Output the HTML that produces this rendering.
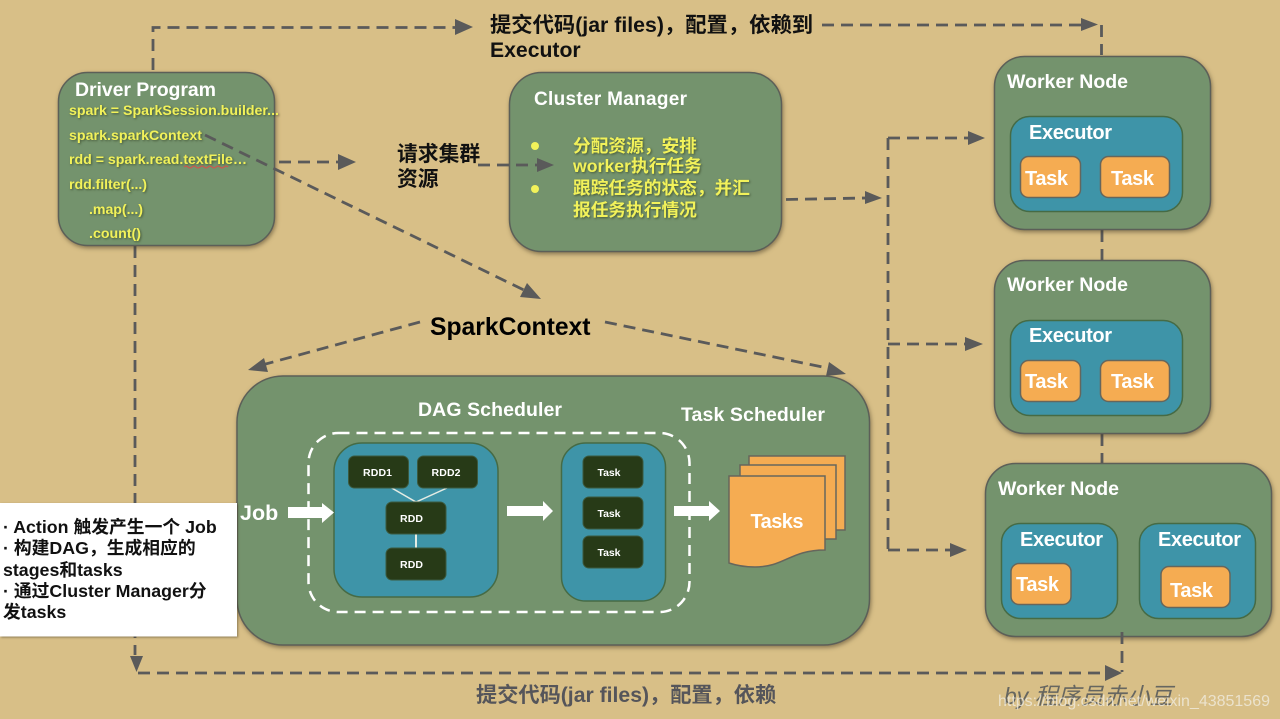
<!DOCTYPE html>
<html><head><meta charset="utf-8"><style>
html,body{margin:0;padding:0;background:#d8bf87;width:1280px;height:719px;overflow:hidden}
svg{display:block}
text{font-family:"Liberation Sans","Noto Sans CJK SC",sans-serif;font-weight:bold}
.w{fill:#fff}
.y{fill:#f2f25a;font-size:14.2px;filter:drop-shadow(1px 1px 1px rgba(40,50,20,.6))}
.k{fill:#111}
.g{fill:#74936d;stroke:#5c5f58;stroke-width:1.5;filter:drop-shadow(1px 2px 2px rgba(60,50,30,.5))}
.t{fill:#3e94a8;stroke:#466b45;stroke-width:1.5}
.o{fill:#f5ac52;stroke:#66665c;stroke-width:1.5}
.d{fill:#273a17;stroke:#3b5a40;stroke-width:1}
.l{fill:none;stroke:#5a5a5a;stroke-width:2.800;stroke-dasharray:12 7}
.a{fill:#5a5a5a}
</style></head><body>
<svg width="1280" height="719" viewBox="0 0 1280 719" xmlns="http://www.w3.org/2000/svg">
<rect width="1280" height="719" fill="#d8bf87"/>

<!-- connectors behind boxes -->
<path class="l" d="M153 70V27.500H470"/>
<path class="a" d="M455 19L473 27L455 35Z"/>
<path class="l" d="M822 25H1082"/>
<path class="a" d="M1081 18L1098 24.500L1081 31Z"/>
<path class="l" d="M1101.500 25V55"/>
<path class="l" d="M1102 230V260"/>
<path class="l" d="M1102 434V463"/>
<path class="l" d="M135 246V655"/>
<path class="a" d="M130 656H143L136.500 672Z"/>
<path class="l" d="M138 673H1106"/>
<path class="a" d="M1105 665L1122 673L1105 681Z"/>

<!-- Driver -->
<rect class="g" x="58.500" y="72.500" width="216" height="173" rx="29"/>
<text class="w" x="75" y="96" font-size="19.500" textLength="141">Driver Program</text>
<text class="y" x="69" y="115" textLength="210">spark = SparkSession.builder...</text>
<text class="y" x="69" y="140" textLength="133">spark.sparkContext</text>
<text class="y" x="69" y="164" textLength="178">rdd = spark.read.textFile…</text>
<path d="M184 167q2 -2 4 0t4 0t4 0t4 0t4 0t4 0t4 0t4 0t4 0t4 0t4 0" fill="none" stroke="#d8504a" stroke-width="1"/>
<text class="y" x="69" y="189" textLength="78">rdd.filter(...)</text>
<text class="y" x="89" y="214" textLength="54">.map(...)</text>
<text class="y" x="89" y="238" textLength="52">.count()</text>

<!-- Cluster manager -->
<rect class="g" x="509.500" y="72.500" width="272" height="179" rx="32"/>
<text class="w" x="534" y="105" font-size="19" textLength="153">Cluster Manager</text>
<circle cx="535" cy="146" r="4" fill="#f2f25a"/>
<circle cx="535" cy="189" r="4" fill="#f2f25a"/>
<text class="y" style="font-size:17.700px" x="573" y="152">分配资源，安排</text>
<text class="y" style="font-size:17.700px" x="573" y="172">worker执行任务</text>
<text class="y" style="font-size:17.700px" x="573" y="194">跟踪任务的状态，并汇</text>
<text class="y" style="font-size:17.700px" x="573" y="216">报任务执行情况</text>

<!-- dashed arrows on top of boxes -->
<path class="l" d="M205 135L528 292"/>
<path class="a" d="M527 283L541 299L520 297Z"/>
<path class="l" d="M279 162H340"/>
<path class="a" d="M338 154L356 162L338 170Z"/>
<path class="l" d="M478 165H538"/>
<path class="a" d="M537 158L554 165L537 172Z"/>
<path class="l" d="M786 199.500L866 198"/>
<path class="a" d="M865 191L882 198L865 204Z"/>
<path class="l" d="M888 138V550"/>
<path class="l" d="M888 138H970"/>
<path class="a" d="M968 131L985 138L968 145Z"/>
<path class="l" d="M888 344H968"/>
<path class="a" d="M965 337L983 344L965 351Z"/>
<path class="l" d="M888 550H952"/>
<path class="a" d="M950 543L967 550L950 557Z"/>

<!-- labels -->
<text class="k" x="490" y="32" font-size="21.300">提交代码(jar files)，配置，依赖到</text>
<text class="k" x="490" y="57" font-size="21.200">Executor</text>
<text class="k" x="397" y="161" font-size="20.800">请求集群</text>
<text class="k" x="397" y="186" font-size="20.800">资源</text>
<text class="k" x="430" y="335" font-size="24.700" style="fill:#000">SparkContext</text>

<path class="l" d="M420 322L262 365"/>
<path class="a" d="M264 358L248 370L268 372Z"/>
<path class="l" d="M605 322L832 369"/>
<path class="a" d="M829 362L846 374L826 376Z"/>

<!-- Worker 1 -->
<rect class="g" x="994.500" y="56.500" width="216" height="173" rx="30"/>
<text class="w" x="1007" y="88" font-size="19.500" textLength="121">Worker Node</text>
<rect class="t" x="1010.500" y="116.500" width="172" height="95" rx="19"/>
<text class="w" x="1029" y="139" font-size="20" textLength="83">Executor</text>
<rect class="o" x="1020.500" y="156.500" width="60" height="41" rx="8"/>
<text class="w" x="1025" y="185" font-size="20" textLength="43">Task</text>
<rect class="o" x="1100.500" y="156.500" width="69" height="41" rx="8"/>
<text class="w" x="1111" y="185" font-size="20" textLength="43">Task</text>

<!-- Worker 2 -->
<rect class="g" x="994.500" y="260.500" width="216" height="173" rx="30"/>
<text class="w" x="1007" y="291" font-size="19.500" textLength="121">Worker Node</text>
<rect class="t" x="1010.500" y="320.500" width="172" height="95" rx="19"/>
<text class="w" x="1029" y="342" font-size="20" textLength="83">Executor</text>
<rect class="o" x="1020.500" y="360.500" width="60" height="41" rx="8"/>
<text class="w" x="1025" y="388" font-size="20" textLength="43">Task</text>
<rect class="o" x="1100.500" y="360.500" width="69" height="41" rx="8"/>
<text class="w" x="1111" y="388" font-size="20" textLength="43">Task</text>

<!-- Worker 3 -->
<rect class="g" x="985.500" y="463.500" width="286" height="173" rx="30"/>
<text class="w" x="998" y="495" font-size="19.500" textLength="121">Worker Node</text>
<rect class="t" x="1001.500" y="523.500" width="116" height="95" rx="19"/>
<text class="w" x="1020" y="546" font-size="20" textLength="83">Executor</text>
<rect class="o" x="1011" y="563.500" width="60" height="41" rx="8"/>
<text class="w" x="1016" y="591" font-size="20" textLength="43">Task</text>
<rect class="t" x="1139.500" y="523.500" width="116" height="95" rx="19"/>
<text class="w" x="1158" y="546" font-size="20" textLength="83">Executor</text>
<rect class="o" x="1161" y="566.500" width="69" height="41" rx="8"/>
<text class="w" x="1170" y="597" font-size="20" textLength="43">Task</text>
<path class="l" d="M1122 632V672"/>

<!-- DAG -->
<rect class="g" x="237" y="376" width="632.500" height="269" rx="46"/>
<text class="w" x="418" y="416" font-size="19.500" textLength="144">DAG Scheduler</text>
<text class="w" x="681" y="421" font-size="19.500" textLength="144">Task Scheduler</text>
<text class="w" x="240" y="520" font-size="21.500">Job</text>

<rect class="t" x="334" y="443" width="164" height="154" rx="28"/>
<rect class="t" x="561.500" y="443" width="104" height="158" rx="24"/>

<path d="M390 487L416 502L447 488" fill="none" stroke="#e4ece4" stroke-width="1.500"/>
<path d="M416 534V548" fill="none" stroke="#e4ece4" stroke-width="2"/>

<g font-size="10.500">
<rect class="d" x="348.500" y="456" width="60" height="32" rx="6"/>
<text class="w" x="363" y="476" textLength="29">RDD1</text>
<rect class="d" x="417.500" y="456" width="60" height="32" rx="6"/>
<text class="w" x="431.500" y="476" textLength="29">RDD2</text>
<rect class="d" x="386" y="502" width="60" height="32" rx="6"/>
<text class="w" x="400" y="522" textLength="23">RDD</text>
<rect class="d" x="386" y="548" width="60" height="32" rx="6"/>
<text class="w" x="400" y="568" textLength="23">RDD</text>
<rect class="d" x="583" y="456" width="60" height="32" rx="6"/>
<text class="w" x="597.500" y="476" textLength="23">Task</text>
<rect class="d" x="583" y="497" width="60" height="32" rx="6"/>
<text class="w" x="597.500" y="517" textLength="23">Task</text>
<rect class="d" x="583" y="536" width="60" height="32" rx="6"/>
<text class="w" x="597.500" y="556" textLength="23">Task</text>
</g>

<rect x="308.500" y="433" width="381" height="179" rx="30" fill="none" stroke="#fff" stroke-width="2.500" stroke-dasharray="11 7"/>

<path d="M288 507H322V503L334 512.500L322 523V518H288Z" fill="#fff"/>
<path d="M507 506H543V501L553 511L543 521V516H507Z" fill="#fff"/>
<path d="M674 506H709V501L720 511L709 521V516H674Z" fill="#fff"/>

<!-- Tasks stack -->
<rect class="o" x="749" y="456" width="96" height="74"/>
<rect class="o" x="740" y="465" width="96" height="74"/>
<path class="o" d="M729 476H825V550C790 550 785 567 755 567C745 567 735 565 729 563Z"/>
<text class="w" x="750.500" y="528" font-size="20" textLength="53">Tasks</text>

<!-- White note -->
<rect x="0" y="503" width="237" height="133.500" fill="#fff" style="filter:drop-shadow(1px 1px 1px rgba(60,50,30,.5))"/>
<g class="k" font-size="17.800">
<text x="3" y="533">· Action 触发产生一个 Job</text>
<text x="3" y="554">· 构建DAG，生成相应的</text>
<text x="3" y="576">stages和tasks</text>
<text x="3" y="597">· 通过Cluster Manager分</text>
<text x="3" y="618">发tasks</text>
</g>

<!-- Bottom -->
<text x="476" y="702" font-size="21.200" fill="#55555a">提交代码(jar files)，配置，依赖</text>
<text x="1004" y="704" font-size="23" fill="#666660" font-style="italic" style="font-weight:normal">by 程序员赤小豆</text>
<text x="998" y="706" font-size="16" fill="#f0ebdd" fill-opacity=".8" style="font-weight:normal" textLength="272">https://blog.csdn.net/weixin_43851569</text>
</svg>
</body></html>
